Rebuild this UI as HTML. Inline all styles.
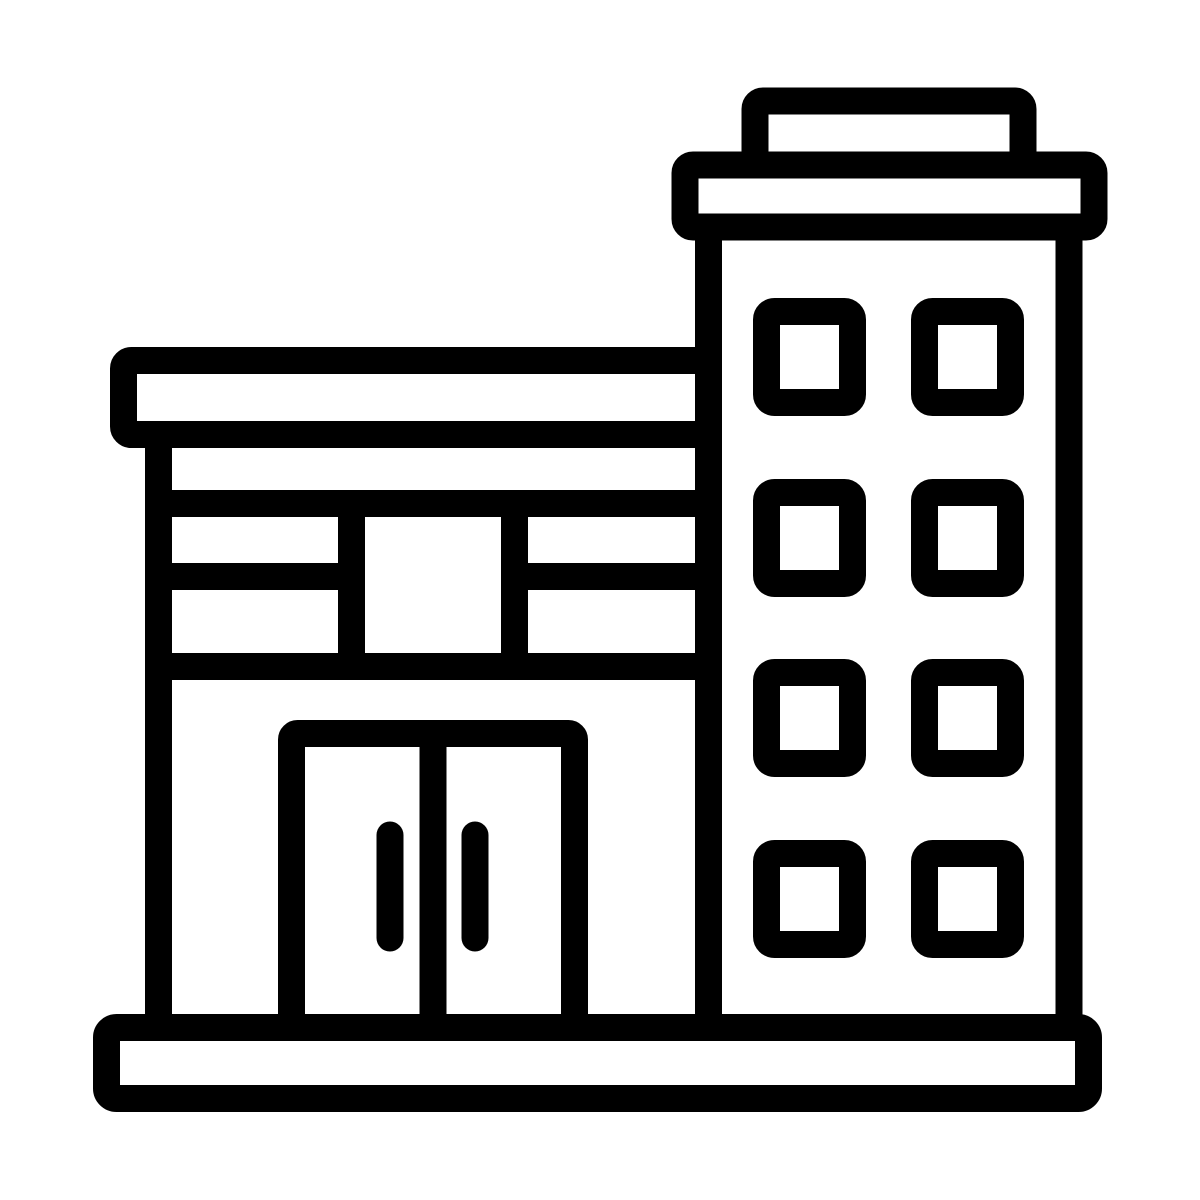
<!DOCTYPE html>
<html><head><meta charset="utf-8"><style>html,body{margin:0;padding:0;background:#fff}svg{display:block}</style></head>
<body>
<svg width="1200" height="1200" viewBox="0 0 1200 1200" xmlns="http://www.w3.org/2000/svg">
<g fill="#fff" stroke="#000" stroke-width="27" stroke-linejoin="round" stroke-linecap="round">
<!-- tower -->
<rect x="708.5" y="227" width="360.5" height="801"/>
<rect x="755" y="101" width="268" height="64" rx="8"/>
<rect x="685" y="165" width="409" height="62" rx="8"/>
<!-- windows -->
<rect x="766.5" y="311.5" width="86" height="91" rx="8"/>
<rect x="924.5" y="311.5" width="86" height="91" rx="8"/>
<rect x="766.5" y="492.5" width="86" height="91" rx="8"/>
<rect x="924.5" y="492.5" width="86" height="91" rx="8"/>
<rect x="766.5" y="672.5" width="86" height="91" rx="8"/>
<rect x="924.5" y="672.5" width="86" height="91" rx="8"/>
<rect x="766.5" y="853.5" width="86" height="91" rx="8"/>
<rect x="924.5" y="853.5" width="86" height="91" rx="8"/>
<!-- left building -->
<line x1="158.5" y1="434" x2="158.5" y2="1028"/>
<rect x="123.5" y="360.5" width="585" height="74" rx="8"/>
<line x1="158.5" y1="503.5" x2="708.5" y2="503.5" stroke-linecap="butt"/>
<line x1="158.5" y1="576.5" x2="351.5" y2="576.5" stroke-linecap="butt"/>
<line x1="514.5" y1="576.5" x2="708.5" y2="576.5" stroke-linecap="butt"/>
<line x1="158.5" y1="666.5" x2="708.5" y2="666.5" stroke-linecap="butt"/>
<line x1="351.5" y1="503.5" x2="351.5" y2="666.5" stroke-linecap="butt"/>
<line x1="514.5" y1="503.5" x2="514.5" y2="666.5" stroke-linecap="butt"/>
<!-- door -->
<rect x="291.5" y="733.5" width="283" height="300" rx="6"/>
<line x1="433" y1="733.5" x2="433" y2="1028" stroke-linecap="butt"/>
<line x1="390" y1="835" x2="390" y2="938"/>
<line x1="475" y1="835" x2="475" y2="938"/>
<!-- base -->
<rect x="106.5" y="1027.5" width="982" height="71" rx="10"/>
</g>
</svg>
</body></html>
